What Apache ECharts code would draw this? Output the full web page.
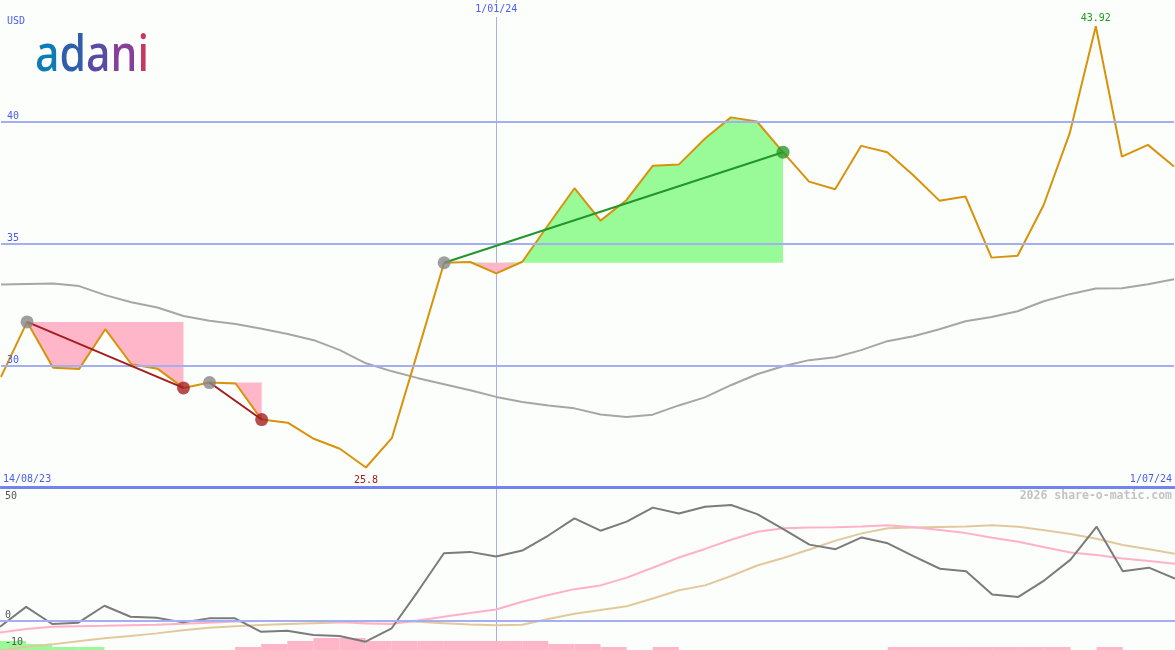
<!DOCTYPE html>
<html>
<head>
<meta charset="utf-8">
<script src="https://cdn.jsdelivr.net/npm/echarts@6/dist/echarts.min.js"></script>
<style>
html,body{margin:0;padding:0;background:#fcfefc;}
#chart{width:1175px;height:650px;}
</style>
</head>
<body>
<div id="chart"></div>
<script>
// ---------- DATA ----------
const categories = ['14/08/23','21/08/23','28/08/23','4/09/23','11/09/23','18/09/23','25/09/23','2/10/23','9/10/23','16/10/23','23/10/23','30/10/23','6/11/23','13/11/23','20/11/23','27/11/23','4/12/23','11/12/23','18/12/23','1/01/24','8/01/24','15/01/24','22/01/24','29/01/24','5/02/24','12/02/24','19/02/24','26/02/24','4/03/24','11/03/24','18/03/24','25/03/24','1/04/24','8/04/24','15/04/24','22/04/24','29/04/24','6/05/24','13/05/24','20/05/24','27/05/24','3/06/24','10/06/24','17/06/24','24/06/24','1/07/24'];
const price = [29.52,31.78,29.90,29.85,31.48,30.04,29.86,29.07,29.29,29.25,27.77,27.64,26.98,26.57,25.80,27.02,30.60,34.21,34.24,33.77,34.25,35.77,37.27,35.94,36.79,38.19,38.24,39.30,40.18,40.01,38.75,37.54,37.23,39.01,38.75,37.80,36.76,36.93,34.42,34.50,36.58,39.53,43.92,38.57,39.05,38.16];
const movingAvg = [33.32,33.34,33.36,33.25,32.88,32.59,32.37,32.02,31.83,31.69,31.50,31.28,31.03,30.62,30.08,29.75,29.47,29.22,28.97,28.70,28.49,28.35,28.23,27.98,27.87,27.97,28.35,28.68,29.18,29.63,29.96,30.21,30.33,30.62,30.99,31.19,31.48,31.81,31.98,32.22,32.63,32.92,33.15,33.16,33.33,33.53];
const priceTicks = [30,35,40];
// trend signals: [start index, end index, kind]
const signalStart = [1, 8, 17];
const signalEnd   = [7, 10, 30];
const signalKind  = ['down','down','up'];
// lower panel
const oscTicks = [-10, 0, 50];
const oscillator = [-2.1,5.3,-1.1,-0.6,5.7,1.6,1.2,-0.5,1.0,1.0,-4.0,-3.6,-5.2,-5.6,-7.7,-2.7,11.0,25.3,25.8,24.1,26.3,31.9,38.3,33.7,37.1,42.3,40.1,42.6,43.3,39.9,34.3,28.5,26.8,31.2,29.0,24.1,19.5,18.6,9.9,9.0,15.2,22.9,35.2,18.6,19.9,15.8];
const pinkAvg = [-4.3,-3.0,-2.1,-1.9,-1.8,-1.6,-1.4,-1.0,-0.6,-0.2,0.0,0.0,0.0,-0.4,-0.9,-1.1,0.2,1.6,3.0,4.3,7.2,9.7,11.9,13.3,16.2,19.9,23.7,26.9,30.3,33.3,34.6,34.9,35.0,35.3,35.7,35.0,34.0,32.8,31.1,29.6,27.5,25.6,24.6,23.3,22.4,21.4];
const tanAvg = [-11.0,-9.6,-8.7,-7.5,-6.4,-5.6,-4.6,-3.4,-2.5,-1.9,-1.5,-1.1,-0.8,-0.5,-0.2,0.0,-0.3,-0.8,-1.3,-1.6,-1.4,0.8,2.7,4.1,5.5,8.4,11.5,13.3,16.8,20.7,23.5,26.7,30.0,32.7,34.6,34.9,35.1,35.3,35.7,35.2,33.9,32.5,30.7,28.4,26.8,25.1];
// signal strength bars, one per week interval (45)
const greenBars = [3,2,1,1,0,0,0,0,0,0,0,0,0,0,0,0,0,0,0,0,0,0,0,0,0,0,0,0,0,0,0,0,0,0,0,0,0,0,0,0,0,0,0,0,0];
const pinkBars  = [0,0,0,0,0,0,0,0,0,1,2,3,4,4,3,3,3,3,3,3,3,2,2,1,0,1,0,0,0,0,0,0,0,0,1,1,1,1,1,1,1,0,1,0,0];
const barCats = categories.slice(1);

// ---------- STYLE ----------
const BG = '#fcfefc';
const MONO = '"DejaVu Sans Mono", monospace';
const BLUE_TXT = '#4a5cf0';
const GRID_LINE = '#a3aff0';
const PINK_FILL = '#ffb6c8';
const GREEN_FILL = '#98fb98';
const LOGO_FONT = {fontFamily:'"Noto Sans"', fontSize:51, fontWeight:500};

const chart = echarts.init(document.getElementById('chart'), null, {renderer:'canvas'});

const fillSeries = [];
const trendSeries = [];
signalStart.forEach((s, k) => {
  const e = signalEnd[k];
  const level = price[s];
  const below = price.map((v, i) => (i >= s && i <= e) ? Math.min(v, level) : null);
  const above = price.map((v, i) => (i >= s && i <= e) ? Math.max(v, level) : null);
  fillSeries.push({
    type:'line', xAxisIndex:0, yAxisIndex:0, data: below, symbol:'none', silent:true, z:2,
    lineStyle:{opacity:0}, areaStyle:{color:PINK_FILL, opacity:1, origin: level}
  });
  if (signalKind[k] === 'up') {
    fillSeries.push({
      type:'line', xAxisIndex:0, yAxisIndex:0, data: above, symbol:'none', silent:true, z:2,
      lineStyle:{opacity:0}, areaStyle:{color:GREEN_FILL, opacity:1, origin: level}
    });
  }
  const lineCol = signalKind[k] === 'up' ? '#22962a' : '#a31d1d';
  const dotCol = signalKind[k] === 'up' ? '#2a9a2a' : '#a52020';
  trendSeries.push({
    type:'line', xAxisIndex:0, yAxisIndex:0, data:[[s, price[s]],[e, price[e]]],
    symbol:'none', z:5, lineStyle:{color:lineCol, width:2}
  });
  trendSeries.push({
    type:'scatter', xAxisIndex:0, yAxisIndex:0, data:[[s, price[s]]], symbolSize:13, z:6,
    itemStyle:{color:'#878787'}
  });
  trendSeries.push({
    type:'scatter', xAxisIndex:0, yAxisIndex:0, data:[[e, price[e]]], symbolSize:13, z:6,
    itemStyle:{color:dotCol}
  });
});

const option = {
  backgroundColor: BG,
  animation: false,
  grid: [
    {left:0, right:0, top:0, height:487},
    {left:0, right:0, top:487, bottom:0}
  ],
  xAxis: [
    {type:'category', gridIndex:0, data:categories, boundaryGap:false, position:'bottom',
     axisLine:{show:true, lineStyle:{color:'#7383f0', width:3}}, axisTick:{show:false},
     axisLabel:{inside:true, interval:(i)=>i===0, align:'left', color:BLUE_TXT, fontFamily:MONO, fontSize:10, margin:3, padding:[0,0,0,2]},
     splitLine:{show:true, interval:(i)=>i===19, lineStyle:{color:GRID_LINE, width:1}}},
    {type:'category', gridIndex:0, data:categories, boundaryGap:false, position:'bottom',
     axisLine:{show:false}, axisTick:{show:false}, splitLine:{show:false},
     axisLabel:{inside:true, interval:(i)=>i===45, align:'right', color:BLUE_TXT, fontFamily:MONO, fontSize:10, margin:3, padding:[0,2,0,0]}},
    {type:'category', gridIndex:0, data:categories, boundaryGap:false, position:'top',
     axisLine:{show:false}, axisTick:{show:false}, splitLine:{show:false},
     axisLabel:{inside:true, interval:(i)=>i===19, color:BLUE_TXT, fontFamily:MONO, fontSize:10, margin:3, backgroundColor:BG, padding:[1,2,3,2]}},
    {type:'category', gridIndex:1, data:categories, boundaryGap:false,
     axisLine:{show:false}, axisTick:{show:false}, axisLabel:{show:false},
     splitLine:{show:true, interval:(i)=>i===19, lineStyle:{color:GRID_LINE, width:1}}},
    {type:'category', gridIndex:1, data:barCats, boundaryGap:true, show:false}
  ],
  yAxis: [
    {type:'value', gridIndex:0, min:25, max:45, interval:5, z:10,
     splitLine:{show:false}, axisLine:{show:false}, axisTick:{show:false},
     axisLabel:{inside:true, showMinLabel:false, showMaxLabel:false, verticalAlign:'bottom', margin:6,
       color:BLUE_TXT, fontFamily:MONO, fontSize:10},
     name:'USD', nameLocation:'end', nameGap:-26,
     nameTextStyle:{align:'left', color:BLUE_TXT, fontFamily:MONO, fontSize:10, padding:[0,0,0,6]}},
    {type:'value', gridIndex:1, min:-10.8, max:50, z:10,
     splitLine:{show:false}, axisLine:{show:false}, axisTick:{show:false},
     axisLabel:{inside:true, customValues:oscTicks, verticalAlign:'middle', margin:5,
       color:'#555555', fontFamily:MONO, fontSize:10,
       formatter:(v)=> v === 50 ? '{t|' + v + '}' : '{b|' + v + '}',
       rich:{t:{padding:[18,0,0,0], color:'#555555', fontFamily:MONO, fontSize:10},
             b:{padding:[0,0,11,0], color:'#555555', fontFamily:MONO, fontSize:10}}}},
    {type:'value', gridIndex:1, min:0, max:54, show:false}
  ],
  series: [
    {type:'line', xAxisIndex:0, yAxisIndex:0, data:[], silent:true, z:1,
     markLine:{silent:true, symbol:'none', animation:false, label:{show:false},
       lineStyle:{color:GRID_LINE, width:2, type:'solid'},
       data: priceTicks.map(v => ({yAxis:v}))}},
    {type:'line', xAxisIndex:0, yAxisIndex:0, data:movingAvg, symbol:'none', z:3,
     lineStyle:{color:'#a6a6a6', width:2}},
    ...fillSeries,
    {type:'line', xAxisIndex:0, yAxisIndex:0, data:price, symbol:'none', z:4,
     lineStyle:{color:'#d8930b', width:2},
     markPoint:{symbol:'circle', symbolSize:1, itemStyle:{color:'rgba(0,0,0,0)'},
       label:{show:true, fontFamily:MONO, fontSize:10, formatter:(p)=>String(p.value)},
       data:[
         {type:'max', label:{position:'top', distance:2, color:'#1f9a1f'}},
         {type:'min', label:{position:'bottom', distance:7, color:'#a01c1c'}}
       ]}},
    ...trendSeries,
    {type:'bar', xAxisIndex:4, yAxisIndex:2, data:greenBars, barWidth:'100%', barGap:'-100%', silent:true, z:1,
     itemStyle:{color:GREEN_FILL}},
    {type:'bar', xAxisIndex:4, yAxisIndex:2, data:pinkBars, barWidth:'100%', barGap:'-100%', silent:true, z:1,
     itemStyle:{color:PINK_FILL}},
    {type:'line', xAxisIndex:3, yAxisIndex:1, data:[], silent:true, z:1,
     markLine:{silent:true, symbol:'none', animation:false, label:{show:false},
       lineStyle:{color:GRID_LINE, width:2, type:'solid'}, data:[{yAxis:0}]}},
    {type:'line', xAxisIndex:3, yAxisIndex:1, data:tanAvg, symbol:'none', z:3,
     lineStyle:{color:'#e2c99c', width:2}},
    {type:'line', xAxisIndex:3, yAxisIndex:1, data:pinkAvg, symbol:'none', z:3,
     lineStyle:{color:'#ffb1c6', width:2}},
    {type:'line', xAxisIndex:3, yAxisIndex:1, data:oscillator, symbol:'none', z:4,
     lineStyle:{color:'#7b7b7b', width:2}}
  ],
  graphic: [
    {type:'text', left:35, top:31, scaleX:0.84, z:10,
     style:{text:'{c1|a}{c2|d}{c3|a}{c4|n}{c5|i}',
       rich:{
         c1:Object.assign({fill:'#0d7bb6'}, LOGO_FONT),
         c2:Object.assign({fill:'#2f5eab'}, LOGO_FONT),
         c3:Object.assign({fill:'#5b4aa2'}, LOGO_FONT),
         c4:Object.assign({fill:'#87409a'}, LOGO_FONT),
         c5:Object.assign({fill:'#c53863'}, LOGO_FONT)
       }}},
    {type:'text', right:3, top:490, z:10,
     style:{text:'2026 share-o-matic.com', font:'bold 11.5px "DejaVu Sans Mono"', fill:'#c3c3c3'}}
  ]
};
chart.setOption(option);
</script>
</body>
</html>
